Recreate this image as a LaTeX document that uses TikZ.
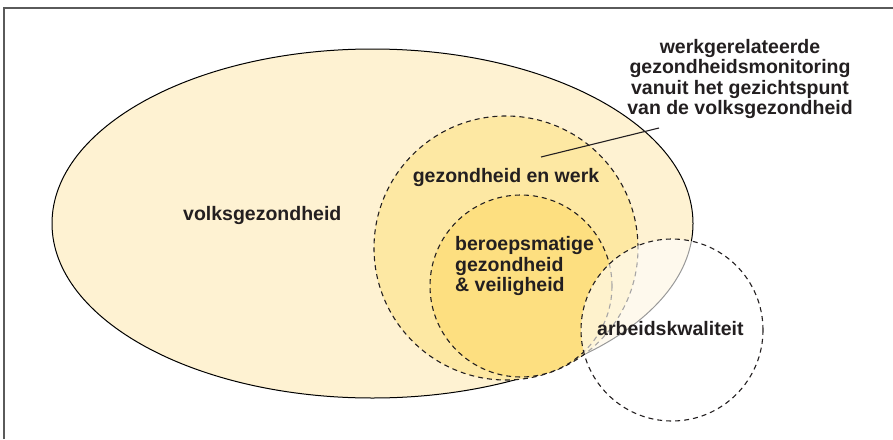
\documentclass[tikz,border=0pt]{standalone}
\usepackage{fontspec}
\setmainfont{Liberation Sans}
\usetikzlibrary{shapes.geometric}
\definecolor{creamA}{RGB}{254,242,210}
\definecolor{creamB}{RGB}{253,232,163}
\definecolor{creamC}{RGB}{253,223,128}
\definecolor{inkc}{RGB}{35,31,32}
\definecolor{framec}{RGB}{90,90,90}
\tikzset{
  dashring/.style={circle, draw=inkc, line width=1.1pt, dash pattern=on 5pt off 4pt, inner sep=0pt},
  lbl/.style={font=\bfseries\fontsize{19.5}{20.5}\selectfont, text=inkc, inner sep=0pt},
}
\begin{document}
\begin{tikzpicture}[x=1pt,y=-1pt]
\useasboundingbox (0,0) rectangle (893,439);
% frame
\coordinate (fbl) at (4,439);
\coordinate (ftl) at (4,8);
\coordinate (ftr) at (893,8);
\draw[framec, line width=1.3pt] (fbl) -- (ftl) -- (ftr);
% shapes
\node[ellipse, draw=black, fill=creamA, line width=1pt, inner sep=0pt,
      minimum width=641pt, minimum height=349pt] (vg) at (372.5,223.5) {};
\node[dashring, fill=creamB, minimum size=264pt] (gw) at (506,248) {};
\node[dashring, fill=creamC, minimum size=182pt] (bg) at (521,286) {};
\node[circle, fill=white, fill opacity=0.6, inner sep=0pt, minimum size=182pt] (akfill) at (672,330) {};
\node[dashring, minimum size=182pt] (ak) at (672,330) {};
% labels
\node[lbl, anchor=base west] (tvg) at (183,220) {volksgezondheid};
\node[lbl, anchor=base] (tgw) at (506,182) {gezondheid en werk};
\node[lbl, anchor=west, align=left] (tbg) at (455,266) {beroepsmatige\\gezondheid\\\& veiligheid};
\node[lbl, anchor=base west] (tak) at (597,335) {arbeidskwaliteit};
\node[lbl, align=center] (tmon) at (740,79) {werkgerelateerde\\gezondheidsmonitoring\\vanuit het gezichtspunt\\van de volksgezondheid};
% leader
\coordinate (lstart) at (541,157);
\coordinate (lend) at (659,128);
\draw[inkc, line width=1.1pt] (lstart) -- (lend);
\end{tikzpicture}
\end{document}
